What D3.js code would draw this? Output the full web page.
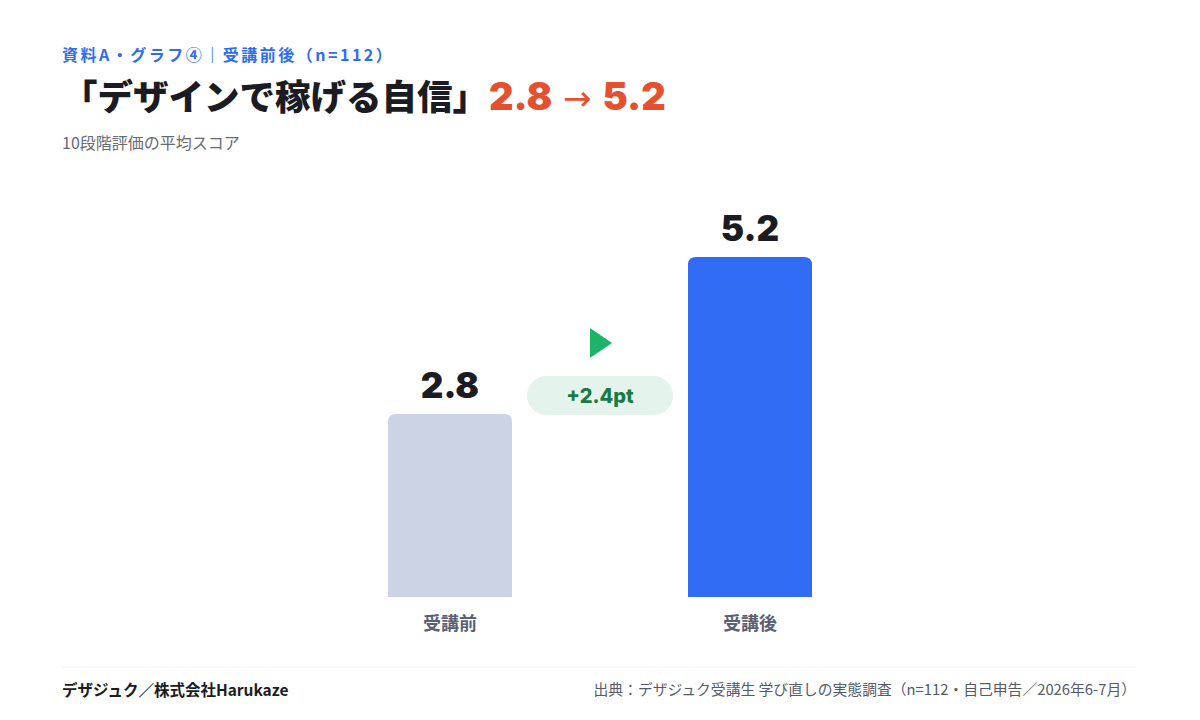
<!DOCTYPE html>
<html><head><meta charset="utf-8">
<script src="https://cdn.jsdelivr.net/npm/d3@7"></script>
<style>
html,body{margin:0;padding:0;background:#fff;}
svg{display:block;font-family:"Noto Sans CJK JP","Noto Sans",sans-serif;}
</style></head>
<body>
<svg id="c" width="1200" height="720"></svg>
<script>
const categories = ["受講前", "受講後"];
const values = [2.8, 5.2];
const valueLabels = ["2.8", "5.2"];
const diffLabel = "+2.4pt";
const kicker = "資料A・グラフ④｜受講前後（n=112）";
const titleMain = "「デザインで稼げる自信」";
const titleNums = ["2.8", " → ", "5.2"];
const subtitle = "10段階評価の平均スコア";
const footLeft = "デザジュク／株式会社Harukaze";
const footRight = "出典：デザジュク受講生 学び直しの実態調査（n=112・自己申告／2026年6-7月）";

const svg = d3.select("#c");
const colors = ["#CBD3E4", "#306CF6"];

// header
svg.append("text").attr("x", 62).attr("y", 61).attr("font-size", 16).attr("font-weight", 700)
  .attr("fill", "#2E6CF0").attr("letter-spacing", 2.5).text(kicker);
const t = svg.append("text").attr("x", 62).attr("y", 110).attr("font-weight", 900);
t.append("tspan").attr("fill", "#1B1B24").attr("font-size", 35.5).text(titleMain);
t.append("tspan").attr("fill", "#E5512F").attr("font-size", 38).attr("dx", 1).attr("font-family", "Inter, 'Noto Sans', sans-serif").text(titleNums[0]);
t.append("tspan").attr("fill", "#E5512F").attr("font-size", 34).attr("font-weight", 400).attr("font-family", "'DejaVu Sans', sans-serif").text(titleNums[1]);
t.append("tspan").attr("fill", "#E5512F").attr("font-size", 38).attr("font-family", "Inter, 'Noto Sans', sans-serif").text(titleNums[2]);
svg.append("text").attr("x", 62).attr("y", 149).attr("font-size", 16).attr("fill", "#666a73").text(subtitle);

// scales
const x = d3.scaleBand().domain(categories).range([238, 962]).paddingInner(0.5867).paddingOuter(0.5);
const y = d3.scaleLinear().domain([0, 6]).range([597, 204.6]);

const g = svg.append("g");
const r = 8;
function barPath(x0, w, y0, y1) {
  return `M${x0},${y1}L${x0},${y0 + r}Q${x0},${y0} ${x0 + r},${y0}L${x0 + w - r},${y0}Q${x0 + w},${y0} ${x0 + w},${y0 + r}L${x0 + w},${y1}Z`;
}
g.selectAll("path.bar").data(values).join("path").attr("class", "bar")
  .attr("d", (d, i) => barPath(x(categories[i]), x.bandwidth(), y(d), y(0)))
  .attr("fill", (d, i) => colors[i]);

g.selectAll("text.val").data(values).join("text").attr("class", "val")
  .attr("x", (d, i) => x(categories[i]) + x.bandwidth() / 2)
  .attr("y", d => y(d) - 16)
  .attr("text-anchor", "middle").attr("font-size", 35).attr("font-weight", 900)
  .attr("fill", "#1B1B24").attr("font-family", "Inter, 'Noto Sans', sans-serif")
  .text((d, i) => valueLabels[i]);

svg.append("g").attr("transform", `translate(0,${y(0)})`)
  .call(d3.axisBottom(x).tickSize(0).tickPadding(20))
  .call(a => a.select(".domain").remove())
  .call(a => a.selectAll("text").attr("font-size", 18).attr("font-weight", 700).attr("fill", "#5A6072")
    .attr("font-family", "'Noto Sans CJK JP', sans-serif"));

// diff marker
const cx = (x(categories[0]) + x.bandwidth() + x(categories[1])) / 2;
svg.append("path").attr("d", `M${cx - 10},${328}L${cx + 12},${343}L${cx - 10},${358}Z`).attr("fill", "#1DB36A");
svg.append("rect").attr("x", cx - 73).attr("y", 376).attr("width", 146).attr("height", 39).attr("rx", 19.5)
  .attr("fill", "#E4F4EC");
svg.append("text").attr("x", cx).attr("y", 403).attr("text-anchor", "middle").attr("font-size", 20)
  .attr("font-weight", 800).attr("fill", "#197A47").attr("font-family", "Inter, 'Noto Sans', sans-serif").text(diffLabel);

// footer
svg.append("line").attr("x1", 62).attr("x2", 1136).attr("y1", 667).attr("y2", 667).attr("stroke", "#EEEFF2");
svg.append("text").attr("x", 62).attr("y", 696).attr("font-size", 15.5).attr("font-weight", 700).attr("fill", "#1B1B24").text(footLeft);
svg.append("text").attr("x", 1136).attr("y", 695).attr("text-anchor", "end").attr("font-size", 14.8).attr("fill", "#555a66").text(footRight);
</script>
</body></html>
